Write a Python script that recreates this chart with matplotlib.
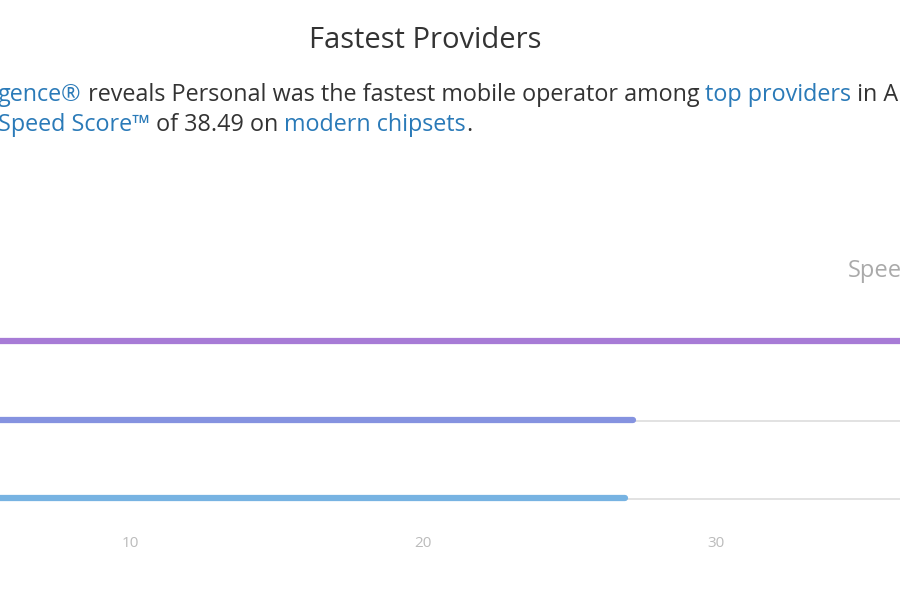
import matplotlib
matplotlib.use("Agg")
import matplotlib.pyplot as plt

providers = ["Personal", "Claro", "Movistar"]
scores = [38.49, 27.17, 26.9]
colors = ["#a77bd6", "#8593e0", "#77b3e2"]
ticks = [10, 20, 30]

W, H = 900, 600
fig = plt.figure(figsize=(9, 6), dpi=100)
fam = ["Open Sans", "DejaVu Sans"]

ax = fig.add_axes([-163 / W, 1 - 560 / H, (1009 + 163) / W, (560 - 300) / H])
ax.set_xlim(0, 40)
ax.set_ylim(560, 300)
ys = [341, 420, 498]
for y, s, c in zip(ys, scores, colors):
    ax.plot([0, 40], [y + 1, y + 1], color="#dddddd", lw=1.2, solid_capstyle="butt", zorder=1)
    ax.plot([0, s], [y, y], color=c, lw=4.5, solid_capstyle="round", zorder=2)
for t in ticks:
    ax.text(t, 544, str(t), ha="center", va="center", color="#bbbbbb", fontsize=11, family=fam)
ax.axis("off")

fig.text(425 / W, 1 - 41 / H, "Fastest Providers", ha="center", va="center",
         fontsize=21, color="#333333", family=fam)
fig.text(848 / W, 1 - 271 / H, "Speed", ha="left", va="center",
         fontsize=17, color="#aaaaaa", family=fam)

blue, dark = "#2a7ab8", "#333333"
lines = [
    (95, [("gence®", blue), (" reveals Personal was the fastest mobile operator among ", dark),
          ("top providers", blue), (" in Argentina", dark)]),
    (125, [("Speed Score™", blue), (" of 38.49 on ", dark), ("modern chipsets", blue), (".", dark)]),
]
fig.canvas.draw()
r = fig.canvas.get_renderer()
for y, segs in lines:
    x = -2
    for s, c in segs:
        t = fig.text(x / W, 1 - y / H, s, ha="left", va="center", fontsize=16.8, color=c, family=fam)
        bb = t.get_window_extent(r)
        x += bb.width
fig.savefig("out.png", dpi=100)
